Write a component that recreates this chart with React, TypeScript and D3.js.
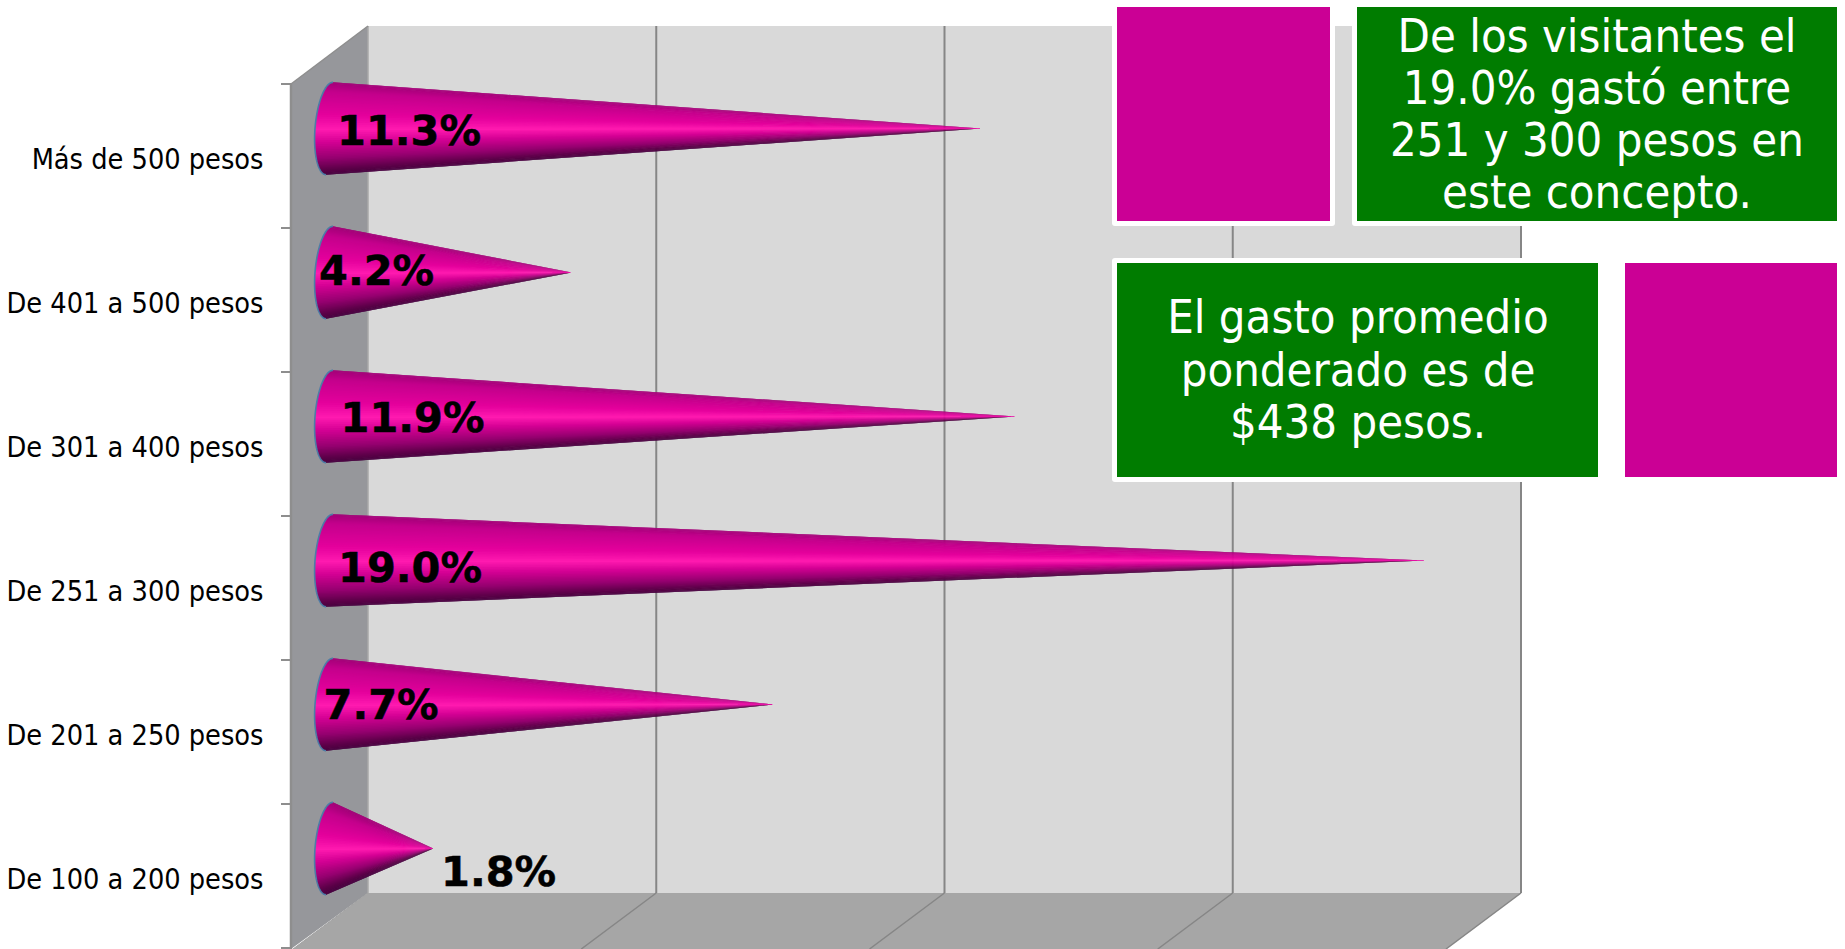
import React from "react";
import * as d3 from "d3";

// Spending brackets, listed from the top row to the bottom row
const categories = [
  "Más de 500 pesos",
  "De 401 a 500 pesos",
  "De 301 a 400 pesos",
  "De 251 a 300 pesos",
  "De 201 a 250 pesos",
  "De 100 a 200 pesos",
];
const shares = [11.3, 4.2, 11.9, 19.0, 7.7, 1.8];
const gridTicks = [0, 5, 10, 15, 20];

const noteOne = ["De los visitantes el", "19.0% gastó entre", "251 y 300 pesos en", "este concepto."];
const noteTwo = ["El gasto promedio", "ponderado es de", "$438 pesos."];

// Hand-placed value labels: offset of the text start from the cone base, and of its baseline from the cone axis
const labelDx = [7.5, -10.5, 11, 8.5, -6, 111.5];
const labelDy = [16.5, 12, 15.5, 21.5, 14, 37.5];

const W = 1845;
const H = 949;
const DEPTH_X = 77;
const DEPTH_Y = 55;
const FLOOR_RUN = 75;
const FRONT_LEFT = 291;
const FRONT_RIGHT = 1444;
const FRONT_TOP = 84;
const FRONT_BOTTOM = 948;

// Front-plane scales; the back wall is the same frame shifted by the depth vector
const x = d3.scaleLinear().domain([0, 20]).range([FRONT_LEFT, FRONT_RIGHT]);
const y = d3.scaleBand().domain(categories).range([FRONT_TOP, FRONT_BOTTOM]);
const midX = (v: number) => x(v) + DEPTH_X / 2;
const midY = (c: string) => (y(c) as number) + y.bandwidth() / 2 - DEPTH_Y / 2;

const shade = d3
  .scaleLinear<string>()
  .domain([-1, -0.8, -0.3, 0.02, 0.3, 0.65, 0.9, 1])
  .range(["#a30078", "#c4008c", "#e4009c", "#ff1ab0", "#d40094", "#960070", "#5c0048", "#480040"])
  .interpolate(d3.interpolateRgb);

const polyline = d3.line<[number, number]>();
const closed = (pts: [number, number][]) => polyline(pts) + "Z";

const RIM_MAJOR = 46.2;
const RIM_MINOR = 14.5;
const RIM_TILT = 0.075;
const SLICES = 72;

function rimPoint(cx: number, cy: number, t: number): [number, number] {
  const s = Math.sin(t);
  const c = Math.cos(t);
  return [cx - RIM_TILT * RIM_MAJOR * s - RIM_MINOR * c, cy + RIM_MAJOR * s];
}

function Cone({ category, value }: { category: string; value: number }) {
  const cx = midX(0);
  const cy = midY(category);
  const tip: [number, number] = [midX(value), cy];
  const angles = d3.range(SLICES + 1).map((i) => -Math.PI / 2 + (i / SLICES) * Math.PI);
  const rim = angles.map((t) => rimPoint(cx, cy, t));
  // Each wedge runs on under the next one, so neighbouring shades meet without a seam
  return (
    <g>
      {d3.range(SLICES).map((i) => {
        const col = shade(Math.sin((angles[i] + angles[i + 1]) / 2));
        return <path key={i} d={closed([rim[i], rim[Math.min(i + 2, SLICES)], tip])} fill={col} />;
      })}
      {/* Keeps the needle-thin point visible right up to the value */}
      <line x1={tip[0] - (tip[0] - cx) * 0.08} x2={tip[0] - 1} y1={cy} y2={cy} stroke="#e80ea6" strokeWidth={0.8} />
      <path d={polyline(rim) as string} fill="none" stroke="#4d7ca6" strokeWidth={1.6} />
    </g>
  );
}

function Note({ lines, cx, baseline, step }: { lines: string[]; cx: number; baseline: number; step: number }) {
  return (
    <text x={cx} textAnchor="middle" fill="#ffffff" fontFamily="'DejaVu Sans Condensed', 'DejaVu Sans'" fontStretch="condensed" fontSize={46.8}>
      {lines.map((l, i) => (
        <tspan key={i} x={cx} y={baseline + i * step}>
          {l}
        </tspan>
      ))}
    </text>
  );
}

export default function App() {
  const back = (v: number) => x(v) + DEPTH_X;
  const backTop = FRONT_TOP - DEPTH_Y - 3;
  const backBottom = FRONT_BOTTOM - DEPTH_Y;
  const tickYs = [FRONT_TOP, ...categories.map((c) => (y(c) as number) + y.bandwidth())];
  return (
    <svg width={W} height={H} style={{ position: "absolute", left: 0, top: 0, display: "block" }}>
      <rect width={W} height={H} fill="#ffffff" />
      {/* Back wall, side wall and floor of the 3D frame */}
      <rect x={back(0)} y={backTop} width={back(20) - back(0)} height={backBottom - backTop} fill="#d9d9d9" />
      <path
        d={closed([
          [x(0), FRONT_TOP],
          [back(0), backTop],
          [back(0), backBottom],
          [x(0), FRONT_BOTTOM + 1],
        ])}
        fill="#96979b"
      />
      <path
        d={closed([
          [back(0), backBottom],
          [back(20), backBottom],
          [back(20) - FLOOR_RUN, H],
          [back(0) - FLOOR_RUN, H],
        ])}
        fill="#a6a6a6"
      />
      {gridTicks.map((t) => (
        <g key={t} stroke="#868686" fill="none">
          {t > 0 && <line x1={back(t)} x2={back(t)} y1={backTop} y2={backBottom} strokeWidth={2} />}
          {t > 0 && <line x1={back(t)} x2={back(t) - FLOOR_RUN} y1={backBottom} y2={H} strokeWidth={1.5} />}
        </g>
      ))}
      <g fill="none" stroke="#8e8e8e">
        <line x1={back(0)} x2={back(0)} y1={backTop} y2={backBottom} stroke="#a9a9a9" strokeWidth={1.5} />
        <line x1={x(0)} x2={back(0)} y1={FRONT_TOP} y2={backTop} strokeWidth={1.5} />
        <line x1={back(0) - FLOOR_RUN} x2={back(0)} y1={H} y2={backBottom} strokeWidth={1} stroke="#a0a0a0" />
        <line x1={x(0)} x2={x(0)} y1={FRONT_TOP} y2={H} strokeWidth={2.5} />
        {tickYs.map((ty) => (
          <line key={ty} x1={x(0) - 10} x2={x(0)} y1={ty} y2={ty} strokeWidth={2} />
        ))}
      </g>

      {/* Category labels */}
      <g fontFamily="'DejaVu Sans Condensed', 'DejaVu Sans'" fontStretch="condensed" fontSize={28.6} fill="#000000" textAnchor="end">
        {categories.map((c) => (
          <text key={c} x={263.5} y={(y(c) as number) + y.bandwidth() / 2 + 12.5}>
            {c}
          </text>
        ))}
      </g>

      {categories.map((c, i) => (
        <Cone key={c} category={c} value={shares[i]} />
      ))}

      {/* Value labels */}
      <g fontFamily="'DejaVu Sans', Verdana" fontWeight={700} fontSize={41.5} fill="#000000" stroke="#000000" strokeWidth={0.5}>
        {categories.map((c, i) => (
          <text key={c} x={midX(0) + labelDx[i]} y={midY(c) + labelDy[i]}>
            {shares[i].toFixed(1)}%
          </text>
        ))}
      </g>

      {/* Callout boxes */}
      <rect x={1112} y={2} width={223} height={224} rx={3} fill="#ffffff" />
      <rect x={1117} y={7} width={213} height={214} fill="#cb0095" />
      <rect x={1352} y={2} width={490} height={224} rx={3} fill="#ffffff" />
      <rect x={1357} y={7} width={480} height={214} fill="#007c00" />
      <Note lines={noteOne} cx={1597} baseline={52} step={52} />

      <rect x={1112} y={258} width={491} height={224} rx={3} fill="#ffffff" />
      <rect x={1117} y={263} width={481} height={214} fill="#007c00" />
      <Note lines={noteTwo} cx={1358} baseline={333} step={52.5} />
      <rect x={1625} y={263} width={212} height={214} fill="#cb0095" />
    </svg>
  );
}
